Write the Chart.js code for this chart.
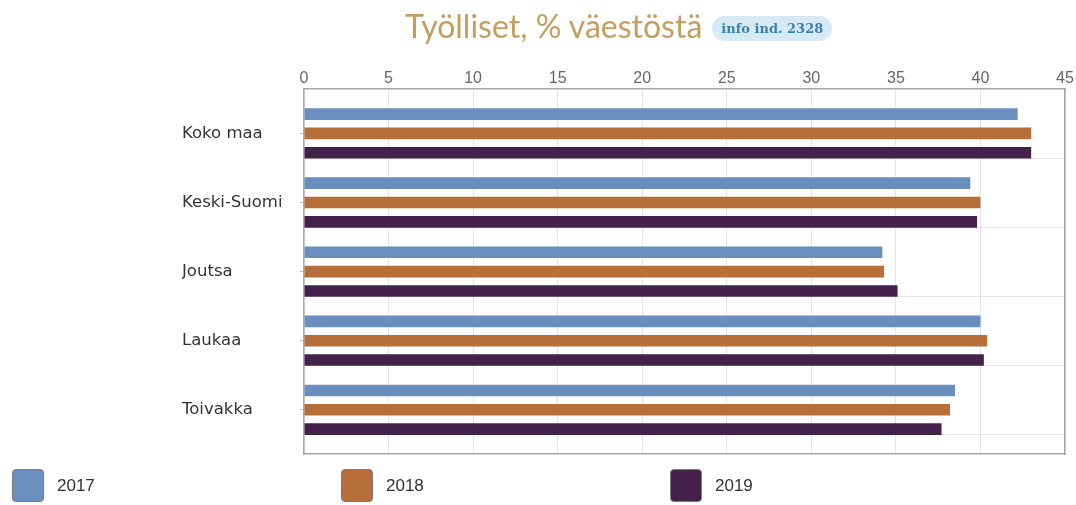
<!DOCTYPE html>
<html><head><meta charset="utf-8">
<script src="https://cdn.jsdelivr.net/npm/chart.js@4.4.1/dist/chart.umd.min.js"></script>
<style>
html,body{margin:0;padding:0;background:#fff;}
#wrap{position:relative;width:1076px;height:505px;overflow:hidden;}
#c{position:absolute;left:0;top:0;}
#title{position:absolute;left:405px;top:4px;height:42px;display:flex;align-items:center;white-space:nowrap;}
#tt{font-family:Lato,sans-serif;font-size:32px;color:#c59d5f;}
#badge{margin-left:10px;margin-top:6px;height:25px;padding:0 9px;border-radius:13px;background:#d6eaf5;color:#3b80ae;font-family:'DejaVu Serif',serif;font-weight:bold;font-size:13px;display:flex;align-items:center;}
#legend{position:absolute;left:12px;top:469px;display:flex;}
.li{width:329px;display:flex;align-items:center;}
.sw{width:32px;height:33px;border:1px solid #7a7a7a;border-radius:4px;box-sizing:border-box;margin-right:13px;}
.lt{font-family:'Liberation Sans',sans-serif;font-size:17px;color:#333;}
</style></head>
<body><div id="wrap">
<canvas id="c" width="1076" height="505"></canvas>
<div id="title"><span id="tt">Työlliset, % väestöstä</span><span id="badge">info ind. 2328</span></div>
<div id="legend"></div>
</div>
<script>
const categories = ['Koko maa', 'Keski-Suomi', 'Joutsa', 'Laukaa', 'Toivakka'];
const years = ['2017', '2018', '2019'];
const values2017 = [42.2, 39.4, 34.2, 40.0, 38.5];
const values2018 = [43.0, 40.0, 34.3, 40.4, 38.2];
const values2019 = [43.0, 39.8, 35.1, 40.2, 37.7];
const xTickStep = 5;
const xMax = 45;
const seriesColors = ['#6a8fbf', '#b86e38', '#44214a'];

const series = [values2017, values2018, values2019];
const borderCol = '#a8a8a8';
const gridCol = '#e4e4e4';
const yMin = -0.64, yMax = 4.64, gridShift = 0.36;

const datasets = series.map((vals, k) => ({
  label: years[k],
  data: vals.map((v, i) => ({x: v, y: i})),
  backgroundColor: seriesColors[k],
  borderWidth: 0,
  categoryPercentage: 0.84,
  barPercentage: 0.6,
  xAxisID: 'x',
  yAxisID: 'y'
}));

new Chart(document.getElementById('c'), {
  type: 'bar',
  data: { datasets },
  options: {
    indexAxis: 'y',
    responsive: false,
    animation: false,
    layout: { padding: { left: 182, right: 11, top: 68, bottom: 51 } },
    plugins: { legend: { display: false }, tooltip: { enabled: false }, title: { display: false } },
    scales: {
      x: {
        type: 'linear', position: 'top', min: 0, max: xMax,
        ticks: { stepSize: xTickStep, color: '#666', font: { family: 'Liberation Sans', size: 16 }, padding: 1 },
        grid: { color: gridCol, drawTicks: false, offset: false },
        border: { color: borderCol, width: 1.5 }
      },
      x2: {
        type: 'linear', position: 'bottom', min: 0, max: xMax,
        ticks: { display: false },
        grid: { color: 'rgba(0,0,0,0)', drawTicks: false, offset: false },
        border: { color: borderCol, width: 1.5 },
        afterFit(s) { s.height = 0; }
      },
      y: {
        type: 'linear', position: 'left', reverse: true, min: yMin, max: yMax, offset: false,
        afterBuildTicks(s) { s.ticks = categories.map((c, i) => ({ value: i })); },
        ticks: {
          autoSkip: false, crossAlign: 'far', color: '#333',
          font: { family: 'DejaVu Sans', size: 16.5 },
          callback: (v) => categories[v]
        },
        grid: { drawOnChartArea: false, drawTicks: true, tickLength: 4, color: '#bbb', offset: false },
        border: { color: borderCol, width: 1.5 },
        afterFit(s) { s.width = 122; }
      },
      yg: {
        type: 'linear', position: 'right', reverse: true, min: yMin, max: yMax, offset: false,
        afterBuildTicks(s) { s.ticks = categories.map((c, i) => ({ value: i + gridShift })); },
        ticks: { display: false },
        grid: { color: gridCol, drawTicks: false, offset: false },
        border: { color: borderCol, width: 1.5 },
        afterFit(s) { s.width = 0; }
      }
    }
  }
});

const leg = document.getElementById('legend');
years.forEach((y, k) => {
  const li = document.createElement('div'); li.className = 'li';
  const sw = document.createElement('div'); sw.className = 'sw'; sw.style.background = seriesColors[k];
  const t = document.createElement('span'); t.className = 'lt'; t.textContent = y;
  li.appendChild(sw); li.appendChild(t); leg.appendChild(li);
});
</script>
</body></html>
